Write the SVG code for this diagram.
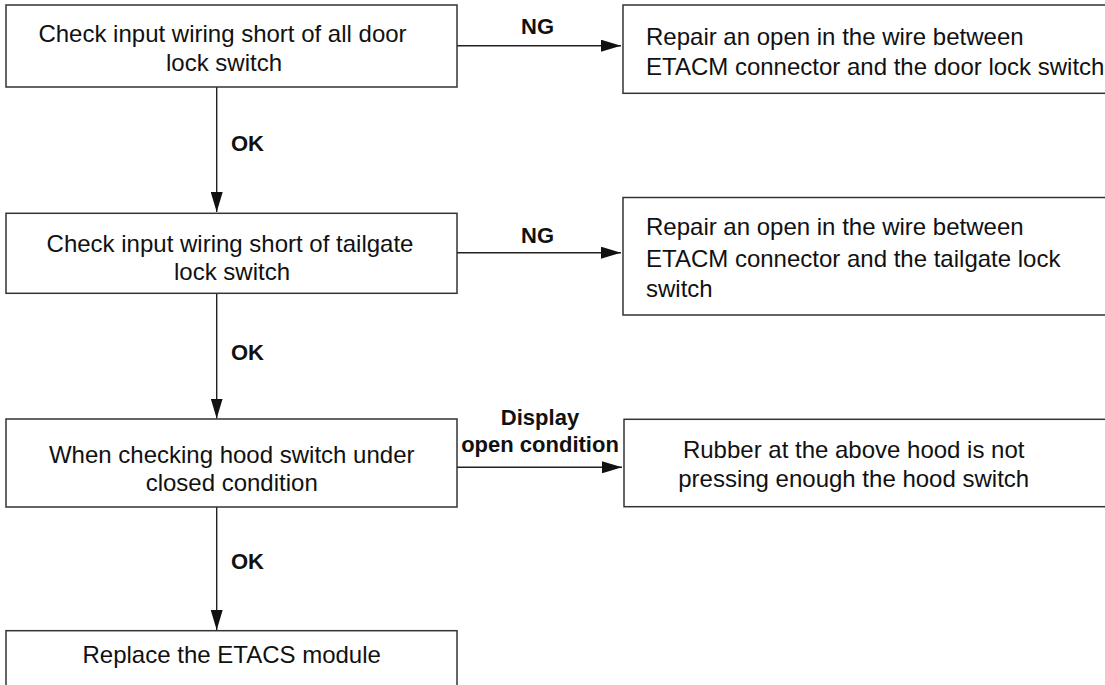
<svg xmlns="http://www.w3.org/2000/svg" width="1105" height="685" viewBox="0 0 1105 685">
<style>
.box{fill:#fff;stroke:#333;stroke-width:1.5}
.t{font-family:"Liberation Sans",Arial,sans-serif;font-size:24px;fill:#111}
.c{text-anchor:middle}
.lbl{font-family:"Liberation Sans",Arial,sans-serif;font-size:22px;font-weight:bold;fill:#111}
.ln{stroke:#222;stroke-width:1.4;fill:none}
</style>
<defs>
<marker id="ah" viewBox="0 0 20 12" refX="20" refY="6" markerWidth="20" markerHeight="12" markerUnits="userSpaceOnUse" orient="auto">
<path d="M0,0 L20,6 L0,12 Z" fill="#111"/>
</marker>
</defs>
<rect width="1105" height="685" fill="#fff"/>
<g id="connectors">
<line class="ln" x1="457" y1="45.7" x2="621" y2="45.7" marker-end="url(#ah)"/>
<line class="ln" x1="457" y1="252.7" x2="621" y2="252.7" marker-end="url(#ah)"/>
<line class="ln" x1="457" y1="467.3" x2="622" y2="467.3" marker-end="url(#ah)"/>
<line class="ln" x1="216.7" y1="87" x2="216.7" y2="212" marker-end="url(#ah)"/>
<line class="ln" x1="216.7" y1="293.5" x2="216.7" y2="418.5" marker-end="url(#ah)"/>
<line class="ln" x1="216.7" y1="507" x2="216.7" y2="630" marker-end="url(#ah)"/>
<text class="lbl c" x="537.5" y="34.3">NG</text>
<text class="lbl c" x="537.5" y="242.7">NG</text>
<text class="lbl c" x="540" y="425">Display</text>
<text class="lbl c" x="540" y="451.7">open condition</text>
<text class="lbl" x="231" y="151">OK</text>
<text class="lbl" x="231" y="360">OK</text>
<text class="lbl" x="231" y="569">OK</text>
</g>
<g id="n1">
<rect class="box" x="6" y="5" width="451" height="82"/>
<text class="t c" x="222.5" y="41.7">Check input wiring short of all door</text>
<text class="t c" x="224" y="70.7">lock switch</text>
</g>
<g id="n2">
<rect class="box" x="623" y="5" width="490" height="88.3"/>
<text class="t" x="646" y="45">Repair an open in the wire between</text>
<text class="t" x="646" y="75">ETACM connector and the door lock switch</text>
</g>
<g id="n3">
<rect class="box" x="6" y="213.3" width="451" height="80"/>
<text class="t c" x="230" y="251.7">Check input wiring short of tailgate</text>
<text class="t c" x="232" y="280">lock switch</text>
</g>
<g id="n4">
<rect class="box" x="623" y="197.5" width="490" height="117.5"/>
<text class="t" x="646" y="235">Repair an open in the wire between</text>
<text class="t" x="646" y="266.7">ETACM connector and the tailgate lock</text>
<text class="t" x="646" y="297">switch</text>
</g>
<g id="n5">
<rect class="box" x="6" y="419" width="451" height="88"/>
<text class="t c" x="231.7" y="462.7">When checking hood switch under</text>
<text class="t c" x="231.7" y="490.7">closed condition</text>
</g>
<g id="n6">
<rect class="box" x="624" y="419.3" width="490" height="87.4"/>
<text class="t c" x="853.7" y="458.3">Rubber at the above hood is not</text>
<text class="t c" x="853.7" y="486.7">pressing enough the hood switch</text>
</g>
<g id="n7">
<rect class="box" x="6" y="630.7" width="451" height="70"/>
<text class="t c" x="231.7" y="663">Replace the ETACS module</text>
</g>
</svg>
